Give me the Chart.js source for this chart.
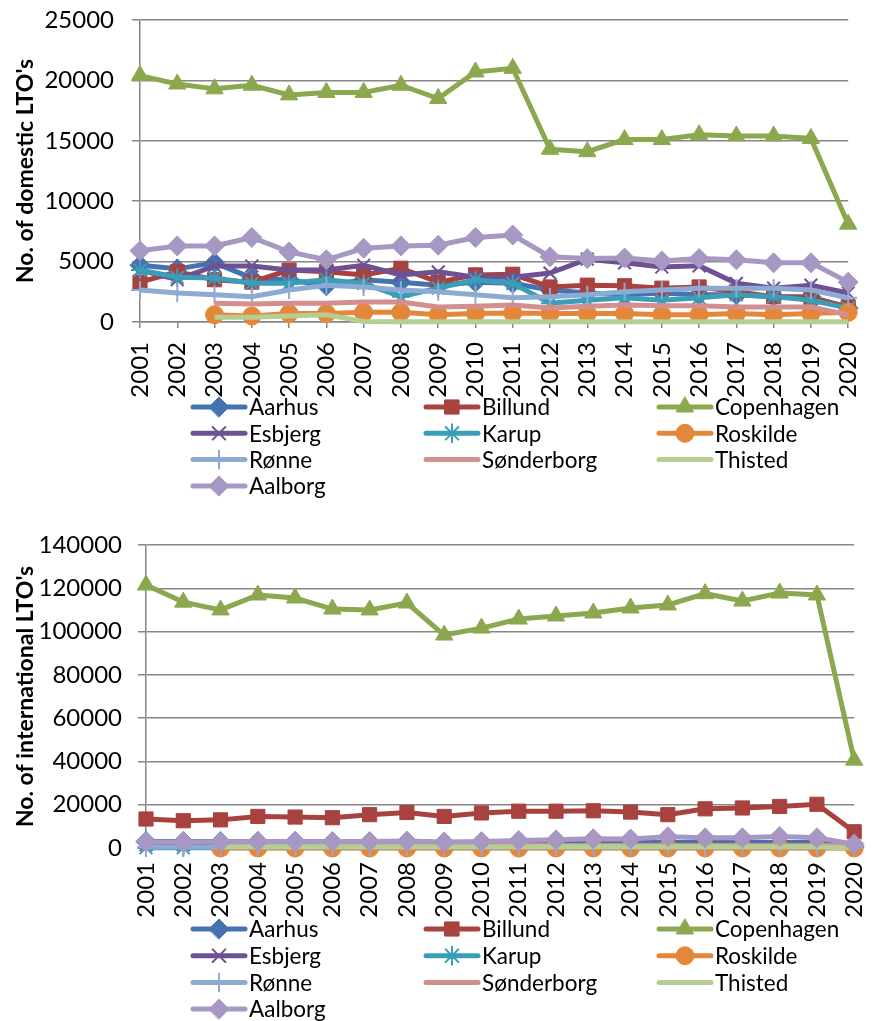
<!DOCTYPE html>
<html>
<head>
<meta charset="utf-8">
<script src="https://cdn.jsdelivr.net/npm/chart.js@4.4.1/dist/chart.umd.min.js"></script>
<style>
  body { margin: 0; background: #fff; overflow: hidden; }
  canvas { position: absolute; left: 0; }
  #domChart { top: -13px; }
  #intChart { top: 505px; }
</style>
</head>
<body>
<canvas id="domChart" width="891" height="518"></canvas>
<canvas id="intChart" width="891" height="516"></canvas>
<script>
var years = ['2001','2002','2003','2004','2005','2006','2007','2008','2009','2010',
             '2011','2012','2013','2014','2015','2016','2017','2018','2019','2020'];
var airports = ['Aarhus','Billund','Copenhagen','Esbjerg','Karup','Roskilde','Rønne','Sønderborg','Thisted','Aalborg'];

// domestic LTO's
var domAarhus     = [4700,4400,4900,3650,3500,3000,3500,3300,3050,3300,3200,2650,2400,2250,2400,2250,2250,2100,2100,1150];
var domBillund    = [3300,4150,3500,3300,4300,4150,3900,4450,3300,3900,3950,2900,3050,3000,2800,2900,2500,2100,2000,1250];
var domCopenhagen = [20400,19700,19300,19600,18800,19000,19000,19600,18500,20700,21000,14300,14100,15100,15100,15500,15400,15400,15200,8100];
var domEsbjerg    = [4300,3500,4640,4640,4300,4300,4700,3900,4150,3700,3700,4050,5200,4900,4550,4650,3200,2800,3050,2400];
var domKarup      = [4300,3700,3650,3200,3200,3500,3200,2100,2800,3500,3200,1550,1800,2000,1800,2000,2250,2100,1800,1150];
var domRoskilde   = [null,null,600,500,700,700,800,800,600,700,750,700,700,700,600,600,700,600,700,800];
var domRonne      = [2650,2400,2250,2100,2650,3050,2900,2650,2500,2250,2000,2100,2250,2500,2650,2800,2800,2800,2650,2000];
var domSonderborg = [null,null,1550,1500,1550,1550,1650,1650,1250,1300,1400,1150,1300,1400,1350,1350,1250,1250,1250,600];
var domThisted    = [null,null,400,400,500,600,50,30,30,30,30,30,30,30,30,30,30,30,30,30];
var domAalborg    = [5900,6300,6300,7000,5800,5150,6100,6300,6350,7000,7200,5400,5250,5300,5050,5250,5150,4900,4900,3300];

// international LTO's
var intAarhus     = [3000,3000,3000,3000,3000,2800,2800,2800,2500,2500,2500,2500,2500,2500,2500,2500,2500,2500,2500,500];
var intBillund    = [13400,12600,13000,14600,14300,14000,15400,16400,14600,16200,17000,17000,17200,16600,15400,18100,18500,19200,20200,7500];
var intCopenhagen = [121500,113600,110000,116900,115500,110400,110000,113200,98400,101600,105800,107200,108600,110900,112300,117500,114100,117800,116900,40600];
var intEsbjerg    = [1500,1500,1200,1200,1200,1200,1200,1200,1000,1000,1000,1000,1000,1000,1000,1000,1000,1000,1000,300];
var intKarup      = [100,100,100,100,100,100,100,100,100,100,100,100,100,100,100,100,100,100,100,100];
var intRoskilde   = [null,null,0,0,0,0,0,0,0,0,0,0,0,0,0,0,0,0,0,0];
var intRonne      = [500,500,500,500,500,500,500,500,500,500,500,500,500,500,500,500,500,500,500,200];
var intSonderborg = [null,null,1200,1200,1200,1200,1200,1200,1200,1200,1200,1200,1200,1200,1200,1200,1200,1200,1200,1000];
var intThisted    = [null,null,600,600,600,600,600,600,600,600,600,600,600,600,600,600,600,600,600,0];
var intAalborg    = [2800,2800,2900,3000,3000,3000,3000,3200,2800,3000,3500,3800,4300,4200,5200,4700,4700,5300,4700,1800];

var domTicks = [0,5000,10000,15000,20000,25000];
var intTicks = [0,20000,40000,60000,80000,100000,120000,140000];

var colors  = ['#4573B2','#A8423F','#8BA84F','#6E5193','#3B9EB8','#E5873A','#8DAAD4','#D38F8D','#B5CE92','#A797C3'];
var markers = ['rectRot','rect','triangle','crossRot','star','circle','cross',false,false,'rectRot'];
var radii   = [10,10,10,9,9,9,9,0,0,10];

var font = 'Lato, "Open Sans", sans-serif';

var gridLegend = {
    id: 'gridLegend',
    afterDraw: function(chart, args, opts) {
        var ctx = chart.ctx;
        chart.data.datasets.forEach(function(ds, i) {
            var x = opts.x0 + (i % 3) * opts.dx;
            var y = opts.y0 + Math.floor(i / 3) * opts.dy;
            ctx.save();
            ctx.strokeStyle = ds.borderColor;
            ctx.lineWidth = ds.borderWidth;
            ctx.lineCap = 'round';
            ctx.beginPath();
            ctx.moveTo(x, y);
            ctx.lineTo(x + opts.len, y);
            ctx.stroke();
            if (ds.pointRadius > 0) {
                ctx.fillStyle = ds.pointBackgroundColor;
                ctx.strokeStyle = ds.pointBorderColor;
                ctx.lineWidth = ds.pointBorderWidth;
                Chart.helpers.drawPoint(ctx, {
                    pointStyle: ds.pointStyle, radius: ds.pointRadius,
                    borderWidth: ds.pointBorderWidth, rotation: 0
                }, x + opts.len / 2, y);
            }
            ctx.fillStyle = '#000';
            ctx.font = '22.5px ' + font;
            ctx.textBaseline = 'middle';
            ctx.textAlign = 'left';
            ctx.fillText(ds.label, x + opts.len + 4, y + 1);
            ctx.restore();
        });
    }
};

function makeChart(id, series, ticks, title, g) {
    var datasets = series.map(function(values, i) {
        var thin = markers[i] === 'crossRot' || markers[i] === 'star' || markers[i] === 'cross';
        return {
            label: airports[i],
            data: values,
            borderColor: colors[i],
            backgroundColor: colors[i],
            borderWidth: 5,
            pointStyle: markers[i] || 'circle',
            pointRadius: radii[i],
            pointHoverRadius: radii[i],
            pointBackgroundColor: colors[i],
            pointBorderColor: colors[i],
            pointBorderWidth: thin ? 2 : 1,
            tension: 0,
            clip: false,
            order: 10 - i
        };
    });
    return new Chart(document.getElementById(id), {
        type: 'line',
        data: { labels: years, datasets: datasets },
        plugins: [gridLegend],
        options: {
            responsive: false,
            animation: false,
            devicePixelRatio: 1,
            layout: { padding: { top: g.top, right: g.right, left: 0, bottom: 0 } },
            plugins: {
                legend: { display: false },
                tooltip: { enabled: false },
                gridLegend: { x0: 193, dx: 233, y0: g.legendY, dy: g.legendDy, len: 52 }
            },
            scales: {
                x: {
                    offset: false,
                    afterFit: function(s) { s.height = g.xHeight; },
                    grid: { drawOnChartArea: false, drawTicks: true, tickLength: 6, color: '#868686', lineWidth: 1.5 },
                    border: { color: '#868686', width: 1.5 },
                    ticks: {
                        minRotation: 90, maxRotation: 90, autoSkip: false, padding: g.xPad,
                        color: '#000', font: { family: font, size: 24 }
                    }
                },
                y: {
                    min: ticks[0],
                    max: ticks[ticks.length - 1],
                    afterFit: function(s) { s.width = g.left; },
                    afterBuildTicks: function(s) { s.ticks = ticks.map(function(v) { return { value: v }; }); },
                    grid: { color: '#868686', lineWidth: 1.5, tickLength: 8 },
                    border: { color: '#868686', width: 1.5 },
                    ticks: {
                        padding: g.yPad, color: '#000', font: { family: font, size: 24 },
                        callback: function(v) { return String(v); }
                    },
                    title: {
                        display: true, text: title, color: '#000',
                        font: { family: font, size: 23, weight: 'bold' },
                        padding: { top: 12, bottom: 0 }
                    }
                }
            }
        }
    });
}

// top canvas sits 13px above the page edge, so its inner positions are shifted by 13
makeChart('domChart',
    [domAarhus, domBillund, domCopenhagen, domEsbjerg, domKarup, domRoskilde, domRonne, domSonderborg, domThisted, domAalborg],
    domTicks, "No. of domestic LTO's",
    { top: 33, left: 140, right: 19, xHeight: 183, xPad: 14, yPad: 18, legendY: 420, legendDy: 26.3 });

makeChart('intChart',
    [intAarhus, intBillund, intCopenhagen, intEsbjerg, intKarup, intRoskilde, intRonne, intSonderborg, intThisted, intAalborg],
    intTicks, "No. of international LTO's",
    { top: 40, left: 146, right: 22, xHeight: 173, xPad: 8, yPad: 16, legendY: 424, legendDy: 26.7 });
</script>
</body>
</html>
